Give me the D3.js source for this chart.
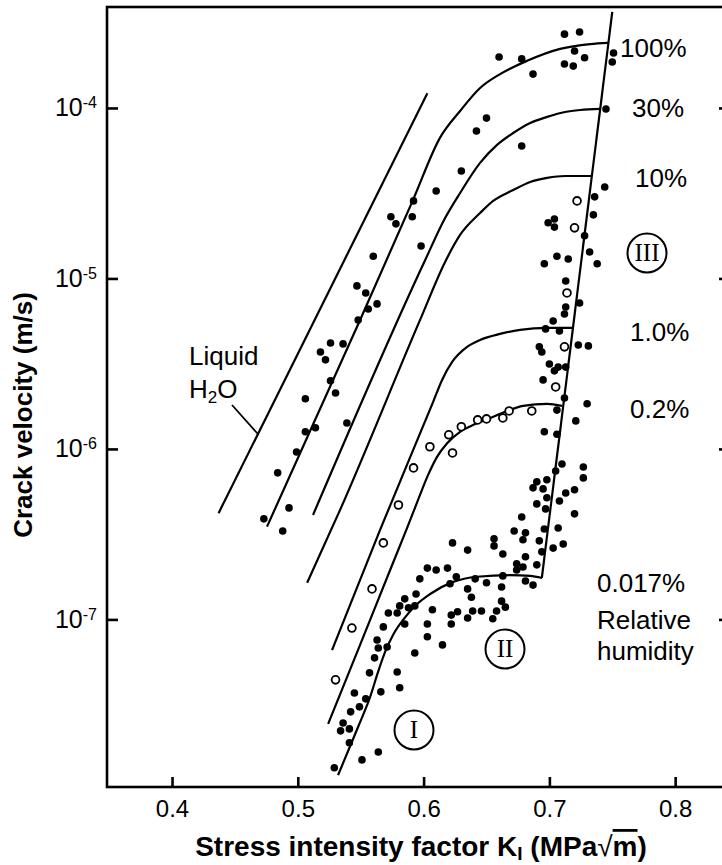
<!DOCTYPE html>
<html>
<head>
<meta charset="utf-8">
<script src="https://cdn.jsdelivr.net/npm/d3@7"></script>
<style>
  body { margin: 0; background: #fff; }
  svg { display: block; font-family: "Liberation Sans", Arial, sans-serif; }
</style>
</head>
<body>
<div id="chart"></div>
<script>
// stress intensity K_I (MPa√m) vs crack velocity v (m/s)
const liquidLine = [[0.437, 4.2e-7], [0.603, 1.22e-4]];
const stageThree = [[0.694, 1.75e-7], [0.750, 3.66e-4]];

const rh100 = [[0.4755,3.5e-7],[0.5495,5.7e-6],[0.5917,2.9e-5],[0.6131,6.7e-5],[0.6290,9.6e-5],[0.6449,1.31e-4],
  [0.6608,1.58e-4],[0.6823,1.89e-4],[0.7085,2.22e-4],[0.7324,2.37e-4],[0.7467,2.41e-4]];
const rh30 = [[0.5121,4.1e-7],[0.6012,1.28e-5],[0.6171,2.26e-5],[0.6290,3.17e-5],[0.6449,4.76e-5],[0.6584,6.07e-5],
  [0.6712,7.13e-5],[0.6847,8.17e-5],[0.6982,8.86e-5],[0.7125,9.47e-5],[0.7245,9.73e-5],[0.7404,9.87e-5]];
const rh10 = [[0.5074,1.64e-7],[0.5336,4.39e-7],[0.5972,5.71e-6],[0.6171,1.25e-5],[0.6290,1.80e-5],[0.6449,2.42e-5],
  [0.6553,2.85e-5],[0.6712,3.30e-5],[0.6847,3.68e-5],[0.6982,3.89e-5],[0.7125,3.99e-5],[0.7332,3.99e-5]];
const rh1 = [[0.5272,6.6e-8],[0.5654,3.35e-7],[0.6076,1.89e-6],[0.6147,2.54e-6],[0.6227,3.24e-6],[0.6346,3.97e-6],
  [0.6449,4.36e-6],[0.6608,4.73e-6],[0.6767,4.99e-6],[0.6982,5.13e-6],[0.7189,5.13e-6]];
const rh02 = [[0.5241,2.44e-8],[0.5495,7.09e-8],[0.5734,1.95e-7],[0.5869,3.44e-7],[0.5956,5.02e-7],[0.6036,7.04e-7],
  [0.6107,8.98e-7],[0.6187,1.08e-6],[0.6290,1.26e-6],[0.6410,1.40e-6],[0.6529,1.52e-6],[0.6648,1.65e-6],
  [0.6791,1.79e-6],[0.6982,1.84e-6],[0.7101,1.79e-6]];
const rh0017 = [[0.5320,1.22e-8],[0.5479,2.34e-8],[0.5575,3.51e-8],[0.5638,4.92e-8],[0.5694,6.45e-8],[0.5757,8.11e-8],
  [0.5837,9.93e-8],[0.5932,1.20e-7],[0.6052,1.41e-7],[0.6235,1.66e-7],[0.6425,1.78e-7],[0.6688,1.82e-7],
  [0.6847,1.80e-7],[0.6942,1.75e-7]];

const filledPts = [
  [0.712,2.71e-4],[0.724,2.79e-4],[0.660,1.99e-4],[0.678,1.94e-4],[0.720,2.16e-4],[0.728,1.97e-4],[0.712,1.81e-4],
  [0.719,1.76e-4],[0.687,1.58e-4],[0.751,2.10e-4],[0.750,1.86e-4],
  [0.650,8.72e-5],[0.642,7.33e-5],[0.745,9.87e-5],[0.678,5.98e-5],[0.630,4.27e-5],[0.610,3.26e-5],[0.592,2.85e-5],
  [0.574,2.30e-5],[0.578,2.09e-5],[0.591,2.30e-5],[0.598,1.55e-5],[0.560,1.35e-5],
  [0.744,3.44e-5],[0.736,3.01e-5],[0.735,2.36e-5],[0.704,2.23e-5],[0.699,2.12e-5],[0.704,2.00e-5],[0.728,1.78e-5],
  [0.732,1.43e-5],[0.706,1.35e-5],[0.715,1.30e-5],[0.696,1.22e-5],[0.738,1.22e-5],
  [0.713,9.66e-6],[0.724,7.18e-6],[0.713,6.80e-6],[0.712,6.19e-6],[0.703,5.63e-6],[0.697,5.06e-6],[0.708,4.92e-6],
  [0.723,4.07e-6],[0.731,4.02e-6],[0.692,3.97e-6],[0.694,3.70e-6],[0.700,3.15e-6],[0.707,3.02e-6],[0.713,3.02e-6],
  [0.704,2.87e-6],[0.695,2.54e-6],[0.712,1.99e-6],[0.730,1.84e-6],[0.706,1.69e-6],[0.721,1.46e-6],[0.696,1.26e-6],
  [0.706,1.22e-6],
  [0.547,9.04e-6],[0.554,8.22e-6],[0.563,7.09e-6],[0.556,6.62e-6],[0.548,5.71e-6],[0.526,4.18e-6],[0.536,4.13e-6],
  [0.518,3.70e-6],[0.522,3.33e-6],[0.526,2.51e-6],[0.530,2.13e-6],[0.506,1.97e-6],[0.539,1.42e-6],[0.506,1.26e-6],
  [0.514,1.33e-6],[0.499,9.60e-7],[0.484,7.24e-7],[0.493,4.51e-7],[0.473,3.89e-7],[0.488,3.30e-7],
  [0.710,8.16e-7],[0.705,7.42e-7],[0.727,7.84e-7],[0.727,6.76e-7],[0.690,6.41e-7],[0.698,6.59e-7],[0.687,5.91e-7],
  [0.695,5.83e-7],[0.713,5.52e-7],[0.720,5.76e-7],[0.698,5.17e-7],[0.690,4.76e-7],[0.708,4.95e-7],[0.697,4.45e-7],
  [0.720,4.16e-7],[0.678,3.99e-7],[0.672,3.30e-7],[0.681,3.22e-7],[0.679,2.93e-7],[0.696,3.39e-7],[0.707,3.44e-7],
  [0.692,2.89e-7],[0.711,2.77e-7],[0.703,2.62e-7],[0.694,2.49e-7],[0.663,2.42e-7],[0.681,2.33e-7],[0.690,2.09e-7],
  [0.674,2.12e-7],[0.679,2.03e-7],[0.674,1.95e-7],[0.663,1.80e-7],[0.681,1.68e-7],[0.687,1.59e-7],[0.662,1.55e-7],
  [0.662,1.28e-7],[0.665,1.18e-7],
  [0.656,2.97e-7],[0.656,2.70e-7],[0.623,2.81e-7],[0.635,2.55e-7],[0.603,2.00e-7],[0.610,1.95e-7],[0.619,2.00e-7],
  [0.626,1.78e-7],[0.597,1.73e-7],[0.621,1.62e-7],[0.635,1.51e-7],[0.638,1.35e-7],[0.650,1.64e-7],[0.641,1.73e-7],
  [0.655,1.01e-7],[0.658,1.12e-7],[0.646,1.12e-7],[0.639,1.12e-7],[0.635,1.02e-7],[0.627,1.11e-7],[0.622,1.06e-7],
  [0.622,9.40e-8],[0.615,7.09e-8],[0.607,1.14e-7],[0.603,9.40e-8],[0.603,7.91e-8],[0.593,6.36e-8],[0.585,9.40e-8],
  [0.594,1.41e-7],[0.593,1.20e-7],[0.588,1.17e-7],[0.585,1.32e-7],[0.581,1.20e-7],[0.579,1.09e-7],[0.572,1.09e-7],
  [0.568,9.04e-8],[0.563,7.58e-8],[0.571,6.89e-8],[0.564,6.80e-8],[0.561,5.95e-8],[0.557,4.86e-8],[0.579,4.92e-8],
  [0.581,3.97e-8],[0.566,3.76e-8],[0.554,3.42e-8],[0.545,3.70e-8],[0.549,3.07e-8],[0.542,2.87e-8],[0.536,2.47e-8],
  [0.534,2.22e-8],[0.541,2.28e-8],[0.541,1.89e-8],[0.564,1.67e-8],[0.551,1.50e-8],[0.529,1.35e-8]
];

const openPts = [
  [0.530,4.42e-8],[0.543,8.90e-8],[0.559,1.51e-7],[0.568,2.81e-7],[0.580,4.69e-7],[0.592,7.74e-7],[0.605,1.03e-6],
  [0.620,1.21e-6],[0.623,9.47e-7],[0.630,1.35e-6],[0.643,1.48e-6],[0.650,1.50e-6],[0.663,1.52e-6],[0.668,1.67e-6],
  [0.686,1.67e-6],[0.722,2.85e-5],[0.720,1.98e-5],[0.714,8.22e-6],[0.712,3.97e-6],[0.705,2.31e-6]
];

const xTicks = [0.4, 0.5, 0.6, 0.7, 0.8];
const yTicks = [1e-4, 1e-5, 1e-6, 1e-7];
const humidityLabels = ['100%', '30%', '10%', '1.0%', '0.2%', '0.017%'];
const romanLabels = ['III', 'II', 'I'];

const width = 722;
const height = 865;
const mLeft = 107, mRight = 730, mTop = 7, mBottom = 787;

const svg = d3.select('#chart')
  .append('svg')
  .attr('width', width)
  .attr('height', height);

const x = d3.scaleLinear().domain([0.3483, 0.8436]).range([mLeft, mRight]);
const y = d3.scaleLog().domain([1.04e-8, 3.91e-4]).range([mBottom, mTop]);

// frame
svg.append('rect')
  .attr('x', mLeft).attr('y', mTop)
  .attr('width', mRight - mLeft).attr('height', mBottom - mTop)
  .attr('fill', 'none').attr('stroke', '#000').attr('stroke-width', 2.6);

const xAxis = d3.axisBottom(x).tickValues(xTicks).tickSize(-10).tickPadding(13)
  .tickFormat(d3.format('.1f'));
const gx = svg.append('g').attr('transform', `translate(0,${mBottom})`).call(xAxis);

const yAxis = d3.axisLeft(y).tickValues(yTicks).tickSize(-11).tickPadding(10);
const gy = svg.append('g').attr('transform', `translate(${mLeft},0)`).call(yAxis);

const yAxisR = d3.axisRight(y).tickValues(yTicks).tickSize(-11).tickFormat('');
const gyr = svg.append('g').attr('transform', `translate(${mRight},0)`).call(yAxisR);

[gx, gy, gyr].forEach(g => {
  g.select('.domain').remove();
  g.selectAll('.tick line').attr('stroke', '#000').attr('stroke-width', 2.6);
  g.selectAll('.tick text').attr('fill', '#000').attr('font-size', 24)
    .attr('font-family', '"Liberation Sans", Arial, sans-serif');
});

gy.selectAll('.tick text').attr('font-size', 25).each(function (d) {
  const t = d3.select(this).text(null);
  t.append('tspan').text('10');
  t.append('tspan').attr('font-size', 16).attr('dy', -8).text(String(Math.round(Math.log10(d))));
});

// curves
const line = d3.line().x(d => x(d[0])).y(d => y(d[1]));
const smooth = d3.line().x(d => x(d[0])).y(d => y(d[1])).curve(d3.curveMonotoneX);

const curveGroup = svg.append('g').attr('fill', 'none').attr('stroke', '#000').attr('stroke-width', 2.2);
curveGroup.append('path').attr('d', line(liquidLine));
curveGroup.append('path').attr('d', line(stageThree));
[rh100, rh30, rh10, rh1, rh02, rh0017].forEach(c => {
  curveGroup.append('path').attr('d', smooth(c));
});

// data points
svg.append('g').selectAll('circle')
  .data(filledPts)
  .enter()
  .append('circle')
  .attr('cx', d => x(d[0]))
  .attr('cy', d => y(d[1]))
  .attr('r', 3.8)
  .attr('fill', '#000');

svg.append('g').selectAll('circle')
  .data(openPts)
  .enter()
  .append('circle')
  .attr('cx', d => x(d[0]))
  .attr('cy', d => y(d[1]))
  .attr('r', 3.9)
  .attr('fill', '#fff')
  .attr('stroke', '#000')
  .attr('stroke-width', 1.8);

// humidity labels
const labelPos = [[620, 57], [632, 117], [635, 187], [630, 341], [630, 418], [597, 592]];
svg.append('g').selectAll('text')
  .data(humidityLabels)
  .enter()
  .append('text')
  .attr('x', (d, i) => labelPos[i][0])
  .attr('y', (d, i) => labelPos[i][1])
  .attr('font-size', 26)
  .text(d => d);

svg.append('text').attr('x', 597).attr('y', 629).attr('font-size', 26).text('Relative');
svg.append('text').attr('x', 597).attr('y', 660).attr('font-size', 26).text('humidity');

// liquid water label
svg.append('text').attr('x', 189).attr('y', 365).attr('font-size', 26).text('Liquid');
const h2o = svg.append('text').attr('x', 189).attr('y', 398).attr('font-size', 26);
h2o.append('tspan').text('H');
h2o.append('tspan').attr('font-size', 17).attr('dy', 5).text('2');
h2o.append('tspan').attr('dy', -5).text('O');

const lx0 = x(liquidLine[0][0]), ly0 = y(liquidLine[0][1]);
const lx1 = x(liquidLine[1][0]), ly1 = y(liquidLine[1][1]);
const leadY = 434;
const leadX = lx0 + (lx1 - lx0) * (leadY - ly0) / (ly1 - ly0);
svg.append('line')
  .attr('x1', 232).attr('y1', 405).attr('x2', leadX).attr('y2', leadY)
  .attr('stroke', '#000').attr('stroke-width', 1.8);

// stage markers
const romanPos = [[647, 253], [505, 649], [414, 730]];
const roman = svg.append('g').selectAll('g')
  .data(romanLabels)
  .enter()
  .append('g')
  .attr('transform', (d, i) => `translate(${romanPos[i][0]},${romanPos[i][1]})`);
roman.append('circle').attr('r', 19.5).attr('fill', '#fff').attr('stroke', '#000').attr('stroke-width', 2);
roman.append('text')
  .attr('text-anchor', 'middle')
  .attr('y', 8)
  .attr('font-family', '"Liberation Serif", "Times New Roman", serif')
  .attr('font-size', 25)
  .text(d => d);

// axis titles
svg.append('text')
  .attr('transform', 'translate(32,415) rotate(-90)')
  .attr('text-anchor', 'middle')
  .attr('font-weight', 'bold')
  .attr('font-size', 26)
  .text('Crack velocity (m/s)');

const xt = svg.append('text')
  .attr('x', 421).attr('y', 856)
  .attr('text-anchor', 'middle')
  .attr('font-weight', 'bold')
  .attr('font-size', 28);
xt.append('tspan').text('Stress intensity factor K');
xt.append('tspan').attr('font-size', 19).attr('dy', 4).text('I');
xt.append('tspan').attr('dy', -4).text(' (MPa');
xt.append('tspan').attr('font-weight', 'normal').text('\u221A');
xt.append('tspan').style('text-decoration', 'overline').text('m');
xt.append('tspan').text(')');
</script>
</body>
</html>
